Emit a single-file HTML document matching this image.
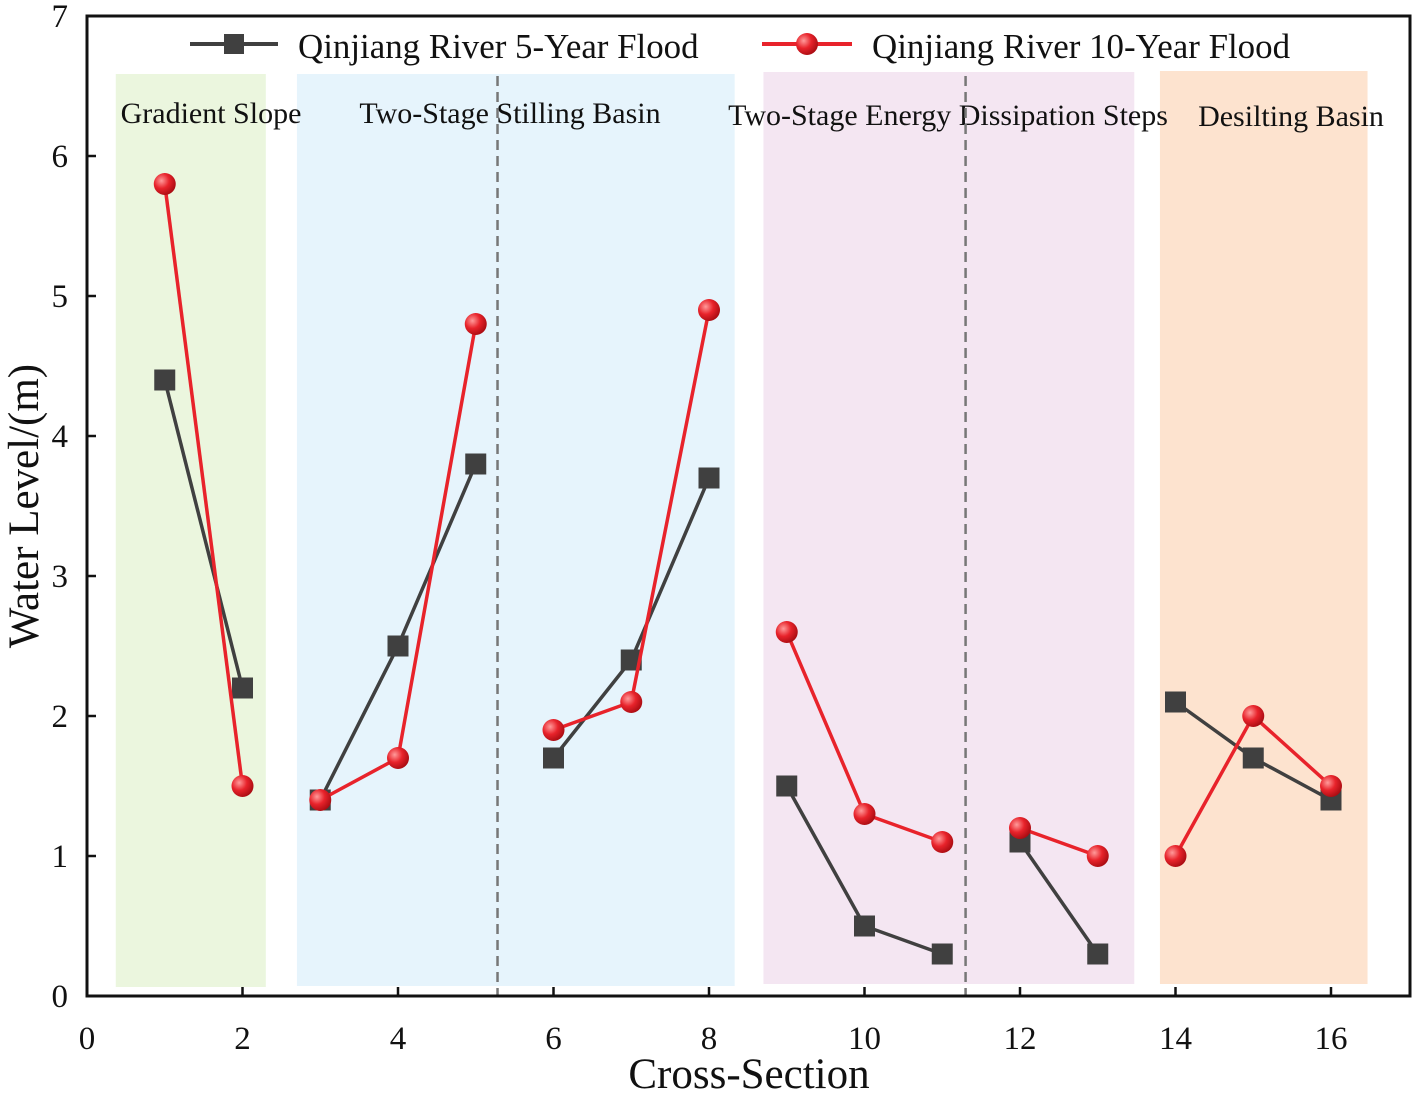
<!DOCTYPE html>
<html><head><meta charset="utf-8">
<style>
html,body{margin:0;padding:0;background:#fff;}
svg{display:block;font-family:"Liberation Serif",serif;}
</style></head>
<body>
<svg id="chart" width="1418" height="1095" viewBox="0 0 1418 1095">
<defs>
<radialGradient id="rg" cx="0.35" cy="0.35" r="0.7">
<stop offset="0" stop-color="#ff9a9a"/><stop offset="0.5" stop-color="#e8232b"/><stop offset="1" stop-color="#a80c12"/>
</radialGradient>
</defs>
<g id="bands"></g>
<g id="bandlabels"></g>
<g id="grid"></g>
<g id="series"></g>
<g id="axes"></g>
<g id="legend">
<line x1="190" y1="44" x2="278" y2="44" stroke="#404040" stroke-width="4"/>
<rect x="224" y="34" width="20" height="20" fill="#404040"/>
<text x="298" y="58" font-size="34.9" fill="#111">Qinjiang River 5-Year Flood</text>
<line x1="762" y1="44" x2="852" y2="44" stroke="#e8232b" stroke-width="4"/>
<circle cx="807" cy="44" r="11" fill="url(#rg)"/>
<text x="872" y="58" font-size="34.9" fill="#111">Qinjiang River 10-Year Flood</text>
</g>
</svg>
<script>
const groups = [[1,2],[3,4,5],[6,7,8],[9,10,11],[12,13],[14,15,16]];
const flood5 = [4.4,2.2,1.4,2.5,3.8,1.7,2.4,3.7,1.5,0.5,0.3,1.1,0.3,2.1,1.7,1.4];
const flood10 = [5.8,1.5,1.4,1.7,4.8,1.9,2.1,4.9,2.6,1.3,1.1,1.2,1.0,1.0,2.0,1.5];
const xTicks = [0,2,4,6,8,10,12,14,16];
const yTicks = [0,1,2,3,4,5,6,7];
const bandNames = ["Gradient Slope","Two-Stage Stilling Basin","Two-Stage Energy Dissipation Steps","Desilting Basin"];
const bandRanges = [[0.37,2.3],[2.7,8.33],[8.7,13.47],[13.8,16.47]];
const dividers = [5.28,11.3];

const NS="http://www.w3.org/2000/svg";
const X0=87,XS=77.75,Y0=996,YS=140;
const sx=v=>X0+v*XS, sy=v=>Y0-v*YS;
function mk(tag,attrs,parent,txt){const e=document.createElementNS(NS,tag);for(const k in attrs)e.setAttribute(k,attrs[k]);if(txt!==undefined)e.textContent=txt;parent.appendChild(e);return e;}
const bands=document.getElementById('bands'),bandlabels=document.getElementById('bandlabels'),grid=document.getElementById('grid'),series=document.getElementById('series'),axes=document.getElementById('axes');
const colors=["#ebf6de","#e6f4fc","#f4e6f2","#fde3cf"];
const bandTop=[74,74,72,71], bandBot=[987,986,984,984];
const labelX=[211,510,948,1291], labelY=[123,123,125,126];
bandRanges.forEach((r,i)=>{
  const el=mk('rect',{x:sx(r[0]),y:bandTop[i],width:sx(r[1])-sx(r[0]),height:bandBot[i]-bandTop[i],fill:colors[i]},bands);
  
  
  const t=mk('text',{x:labelX[i],y:labelY[i],'font-size':30,'text-anchor':'middle',fill:'#111'},bandlabels,bandNames[i]);
  
  
});
dividers.forEach((d,i)=>{
  const l=mk('line',{x1:sx(d),x2:sx(d),y1:76,y2:Y0,stroke:'#777','stroke-width':2.5,'stroke-dasharray':'10,6'},grid);
  
  
});
function drawSeries(vals,color,isCircle,name){
  groups.forEach((g,gi)=>{
    const pts=g.map(x=>sx(x)+','+sy(vals[x-1])).join(' ');
    const pl=mk('polyline',{points:pts,fill:'none',stroke:color,'stroke-width':3.5},series);
    
    
  });
  vals.forEach((v,i)=>{
    const x=sx(i+1),y=sy(v);
    let m;
    if(isCircle) m=mk('circle',{cx:x,cy:y,r:11,fill:'url(#rg)'},series);
    else m=mk('rect',{x:x-10.5,y:y-10.5,width:21,height:21,fill:'#404040'},series);
    
    
  });
}
drawSeries(flood5,'#404040',false,'flood-5yr');
drawSeries(flood10,'#e8232b',true,'flood-10yr');
const frame=mk('rect',{x:X0,y:sy(7),width:1410-X0,height:Y0-sy(7),fill:'none',stroke:'#111','stroke-width':3},axes);


xTicks.forEach(v=>{
  mk('line',{x1:sx(v),x2:sx(v),y1:Y0,y2:Y0-9,stroke:'#111','stroke-width':2.5},axes);
  const t=mk('text',{x:sx(v),y:1049,'font-size':33,'text-anchor':'middle',fill:'#111'},axes,v);
  
  
});
yTicks.forEach(v=>{
  mk('line',{x1:X0,x2:X0+9,y1:sy(v),y2:sy(v),stroke:'#111','stroke-width':2.5},axes);
  const t=mk('text',{x:68,y:sy(v)+11,'font-size':33,'text-anchor':'end',fill:'#111'},axes,v);
  
  
});
const xt=mk('text',{x:749,y:1088,'font-size':43,'text-anchor':'middle',fill:'#111'},axes,'Cross-Section');


const yt=mk('text',{x:0,y:0,'font-size':43,'text-anchor':'middle',fill:'#111',transform:'translate(38,506) rotate(-90)'},axes,'Water Level/(m)');


</script>
</body></html>
